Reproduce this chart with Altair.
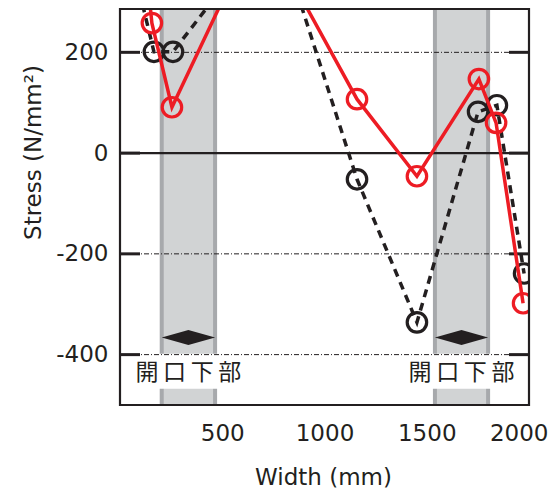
import altair as alt
import pandas as pd

# ---- data ----
black_x = [30, 166, 259, 753, 1159, 1452, 1751, 1843, 1976]
black_y = [430, 201, 201, 461, -52, -336, 82, 95, -239]
red_x = [120, 156, 254, 683, 1159, 1452, 1755, 1839, 1971]
red_y = [400, 258, 91, 459, 107, -46, 147, 60, -298]

band_start = [204, 1540]
band_end = [465, 1800]
band_label = ["開\u2009口\u2009下\u2009部", "開\u2009口\u2009下\u2009部"]
arrow_y = -366
arrow_half = 15
label_y = -437
box_top = -405
box_bottom = -461

x_ticks = [500, 1000, 1500, 2000]
y_ticks = [200, 0, -200, -400]
grid_y = [200, -200, -400]
X_DOMAIN = [0, 2000]
Y_DOMAIN = [-500, 286]

W, H = 409, 396

# ---- tables ----
black_df = pd.DataFrame({"x": black_x, "y": black_y, "order": range(len(black_x))})
red_df = pd.DataFrame({"x": red_x, "y": red_y, "order": range(len(red_x))})
bands = pd.DataFrame({
    "start": band_start, "end": band_end, "label": band_label,
    "mid": [(s + e) / 2 for s, e in zip(band_start, band_end)],
    "top": [Y_DOMAIN[1]] * len(band_start), "bot": [Y_DOMAIN[0]] * len(band_start),
    "ly": [label_y] * len(band_start),
    "btop": [box_top] * len(band_start), "bbot": [box_bottom] * len(band_start),
})
edges = pd.DataFrame({
    "x": band_start + band_end,
    "top": [Y_DOMAIN[1]] * (2 * len(band_start)),
    "bot": [Y_DOMAIN[0]] * (2 * len(band_start)),
})
arrow_rows = []
for i, (s, e) in enumerate(zip(band_start, band_end)):
    m = (s + e) / 2
    arrow_rows += [
        {"band": i, "x": s, "y": arrow_y, "y2": arrow_y},
        {"band": i, "x": m, "y": arrow_y + arrow_half, "y2": arrow_y - arrow_half},
        {"band": i, "x": e, "y": arrow_y, "y2": arrow_y},
    ]
arrows = pd.DataFrame(arrow_rows)
grid_df = pd.DataFrame({"y": grid_y})
tick_df = pd.DataFrame({"y": y_ticks})
zero_df = pd.DataFrame({"y": [0]})

xs = alt.Scale(domain=X_DOMAIN, nice=False, zero=False)
ys = alt.Scale(domain=Y_DOMAIN, nice=False, zero=False)

FONT = "DejaVu Sans"
INK = "#231f20"

x_axis = alt.Axis(values=x_ticks, grid=False, ticks=False, tickSize=0, domain=False,
                  labelFontSize=23, labelFont=FONT, labelColor=INK, labelPadding=17,
                  labelExpr="'' + datum.value",
                  labelFlush=True, labelFlushOffset=19,
                  title="Width (mm)", titleFont=FONT, titleFontSize=23,
                  titleFontWeight="normal", titleColor=INK,
                  titleX=203, titleY=79, titleBaseline="alphabetic", titleAlign="center")
y_axis = alt.Axis(values=y_ticks, grid=False, ticks=False, tickSize=0, domain=False,
                  labelFontSize=23, labelFont=FONT, labelColor=INK, labelPadding=12,
                  labelExpr="'' + datum.value",
                  title="Stress  (N/mm²)", titleFont=FONT, titleFontSize=23,
                  titleFontWeight="normal", titleColor=INK,
                  titleX=-87, titleY=143, titleAngle=270, titleAlign="center",
                  titleBaseline="middle")

band_rect = alt.Chart(bands).mark_rect(color="#d1d3d4").encode(
    x=alt.X("start:Q", scale=xs, axis=x_axis),
    x2="end:Q",
    y=alt.Y("top:Q", scale=ys, axis=y_axis),
    y2="bot:Q",
)
edge_rule = alt.Chart(edges).mark_rule(color="#a7a9ac", strokeWidth=4).encode(
    x=alt.X("x:Q", scale=xs), y=alt.Y("top:Q", scale=ys), y2="bot:Q"
)
white_box = alt.Chart(bands).mark_rect(fill="white", stroke="white", strokeWidth=7).encode(
    x=alt.X("start:Q", scale=xs), x2="end:Q", y=alt.Y("btop:Q", scale=ys), y2="bbot:Q"
)
grid = alt.Chart(grid_df).mark_rule(color=INK, strokeWidth=1,
                                    strokeDash=[5, 2, 1, 2]).encode(
    y=alt.Y("y:Q", scale=ys)
)
zero = alt.Chart(zero_df).mark_rule(color=INK, strokeWidth=2.2).encode(
    y=alt.Y("y:Q", scale=ys)
)
tick_l = alt.Chart(tick_df).mark_rule(color=INK, strokeWidth=3).encode(
    y=alt.Y("y:Q", scale=ys), x=alt.value(0), x2=alt.value(20)
)
tick_r = alt.Chart(tick_df).mark_rule(color=INK, strokeWidth=3).encode(
    y=alt.Y("y:Q", scale=ys), x=alt.value(W - 20), x2=alt.value(W)
)
arrow = alt.Chart(arrows).mark_area(color=INK, opacity=1).encode(
    x=alt.X("x:Q", scale=xs), y=alt.Y("y:Q", scale=ys), y2="y2:Q", detail="band:N"
)
labels = alt.Chart(bands).mark_text(font="Noto Sans CJK JP", fontSize=23,
                                    color=INK, baseline="middle").encode(
    x=alt.X("mid:Q", scale=xs), y=alt.Y("ly:Q", scale=ys), text="label:N"
)
black_line = alt.Chart(black_df).mark_line(color=INK, strokeWidth=3.5,
                                           strokeDash=[8, 6], clip=True).encode(
    x=alt.X("x:Q", scale=xs), y=alt.Y("y:Q", scale=ys), order="order:Q"
)
black_pts = alt.Chart(black_df).mark_point(shape="circle", size=380, filled=False,
                                           color=INK, strokeWidth=3.2,
                                           opacity=1, clip=True).encode(
    x=alt.X("x:Q", scale=xs), y=alt.Y("y:Q", scale=ys)
)
red_line = alt.Chart(red_df).mark_line(color="#ed1c24", strokeWidth=3.5, clip=True).encode(
    x=alt.X("x:Q", scale=xs), y=alt.Y("y:Q", scale=ys), order="order:Q"
)
red_pts = alt.Chart(red_df).mark_point(shape="circle", size=380, filled=False,
                                       color="#ed1c24", strokeWidth=3.2,
                                       opacity=1, clip=True).encode(
    x=alt.X("x:Q", scale=xs), y=alt.Y("y:Q", scale=ys)
)
frame = alt.Chart(zero_df).mark_rect(fillOpacity=0, stroke=INK, strokeWidth=2.2).encode(
    x=alt.value(0), x2=alt.value(W), y=alt.value(0), y2=alt.value(H)
)

chart = alt.layer(
    band_rect, edge_rule, white_box, grid, zero, tick_l, tick_r, arrow, labels,
    black_line, black_pts, red_line, red_pts, frame
).properties(
    width=W, height=H,
    autosize=alt.AutoSizeParams(type="none"),
    padding={"left": 112, "top": 1, "right": 20, "bottom": 84},
).configure_view(
    strokeWidth=0
).configure(background="white")

chart.save("out.html", embed_options={"renderer": "svg", "actions": False})
